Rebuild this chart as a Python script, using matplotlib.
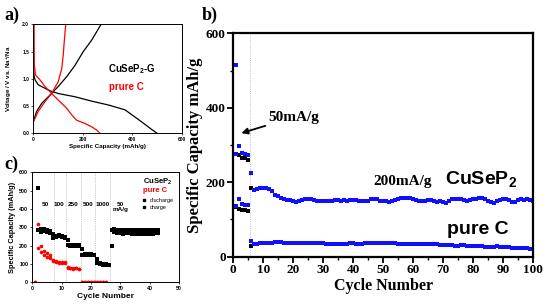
import numpy as np
import matplotlib
matplotlib.use("Agg")
import matplotlib.pyplot as plt
from matplotlib.lines import Line2D

plt.rcParams['mathtext.fontset'] = 'custom'
plt.rcParams['mathtext.rm'] = 'Liberation Sans:bold'
plt.rcParams['mathtext.bf'] = 'Liberation Sans:bold'
plt.rcParams['mathtext.it'] = 'Liberation Sans:bold'

# ---- panel a: voltage profiles (capacity mAh/g, voltage V) ----
cusep2_dis_cap = [0, 3, 7, 20, 67, 101, 169, 236, 303, 371, 438, 470, 500]
cusep2_dis_v = [1.27, 1.05, 0.98, 0.89, 0.78, 0.73, 0.67, 0.59, 0.52, 0.43, 0.21, 0.10, 0.0]
cusep2_chg_cap = [0, 13, 34, 67, 101, 135, 169, 202, 236, 274]
cusep2_chg_v = [0.21, 0.40, 0.55, 0.70, 0.86, 1.04, 1.25, 1.50, 1.71, 2.0]
purec_dis_cap = [3, 4, 9, 27, 47, 74, 101, 135, 155, 175, 209, 236, 256, 270]
purec_dis_v = [2.0, 1.25, 1.07, 0.98, 0.86, 0.73, 0.61, 0.46, 0.34, 0.24, 0.18, 0.12, 0.06, 0.0]
purec_chg_cap = [0, 20, 47, 74, 101, 115, 121, 125, 131]
purec_chg_v = [0.21, 0.40, 0.58, 0.73, 0.95, 1.19, 1.44, 1.68, 2.0]

# ---- panel b: long cycling ----
cusep2_first = 515
cusep2_50_dis = [277, 297, 279, 275, 272]
cusep2_chg = [277, 272, 265, 265, 259, 185]
purec_50_dis = [135, 155, 142, 140, 138]
purec_chg = [133, 129, 125, 125, 123, 28]
cusep2_200 = [224, 180, 182, 184, 185, 184, 182, 176, 167, 162, 158, 155, 153, 153, 149,
              146, 149, 153, 155, 156, 155, 153, 151, 150, 150, 151, 151, 151, 152, 152,
              151, 152, 151, 153, 153, 152, 151, 150, 149, 150, 155, 156, 155, 151, 149,
              150, 148, 151, 153, 156, 157, 158, 157, 157, 156, 153, 150, 149, 151, 152,
              153, 151, 148, 150, 146, 143, 151, 155, 155, 156, 154, 152, 150, 152, 154,
              156, 159, 157, 154, 150, 146, 145, 149, 153, 154, 154, 152, 146, 148, 152,
              154, 153, 154, 153, 150]
purec_200 = [41, 33, 35, 36, 36, 37, 37, 38, 39, 40, 39, 38, 37, 38, 38,
             37, 36, 37, 37, 38, 37, 36, 36, 37, 36, 35, 35, 35, 35, 35,
             35, 35, 35, 36, 36, 35, 35, 35, 36, 36, 36, 36, 37, 37, 37,
             37, 36, 36, 36, 35, 35, 35, 34, 35, 35, 34, 34, 33, 34, 34,
             33, 33, 33, 32, 31, 32, 32, 31, 30, 30, 31, 31, 30, 29, 28,
             28, 29, 28, 27, 27, 27, 27, 28, 27, 26, 25, 25, 24, 24, 23,
             23, 24, 24, 22, 21]

# ---- panel c: rate test ----
c_cusep2_dis = [516, 290, 288, 287, 278, 262, 252, 256, 250, 246, 228, 203, 203, 202,
                202, 180, 152, 152, 152, 151, 125, 103, 100, 98, 97, 283, 288, 285,
                284, 285, 283, 284, 285, 284, 283, 283, 284, 283, 284, 283, 284, 285]
c_cusep2_chg = [285, 276, 280, 275, 268, 240, 247, 250, 246, 240, 205, 200, 200, 200,
                199, 150, 150, 150, 150, 149, 105, 100, 97, 96, 95, 198, 275, 268,
                267, 266, 268, 267, 266, 265, 265, 266, 265, 266, 265, 266, 267, 268]
c_purec_dis = [0, 316, 198, 170, 161, 149, 120, 118, 112, 110, 112, 85, 80, 78, 78, 75,
               2, 2, 2, 2, 2, 2, 2, 2, 2]
c_purec_chg = [0, 189, 163, 150, 138, 131, 115, 110, 106, 105, 103, 80, 76, 75, 76, 72,
               1, 1, 1, 1, 1, 1, 1, 1, 1]
rate_bounds = [7.5, 11.5, 16.5, 21.5, 26.5]
rate_labels = ["50", "100", "250", "500", "1000"]
rate_label_x = [4.3, 9.1, 13.9, 19.0, 23.8]

fig = plt.figure(figsize=(5.48, 3.07), dpi=100)
sans = 'Liberation Sans'
serif = 'Liberation Serif'

# ================= panel a =================
axa = fig.add_axes([0.0608, 0.5658, 0.2708, 0.355])
axa.plot(cusep2_dis_cap, cusep2_dis_v, color='black', lw=0.9)
axa.plot(cusep2_chg_cap, cusep2_chg_v, color='black', lw=0.9)
axa.plot(purec_dis_cap, purec_dis_v, color='red', lw=0.9)
axa.plot(purec_chg_cap, purec_chg_v, color='red', lw=0.9)
axa.set_xlim(0, 600)
axa.set_ylim(0, 2.0)
axa.set_xticks([0, 200, 400, 600])
axa.set_yticks([0.0, 0.5, 1.0, 1.5, 2.0])
axa.set_yticklabels(["0.0", "0.5", "1.0", "1.5", "2.0"])
axa.tick_params(labelsize=3.5, length=1.5, width=0.5, pad=1.5)
for lab in axa.get_xticklabels() + axa.get_yticklabels():
    lab.set_fontfamily(sans)
    lab.set_fontweight('bold')
for s in axa.spines.values():
    s.set_linewidth(0.7)
axa.set_xlabel("Specific Capacity (mAh/g)", fontsize=4.5, fontweight='bold',
               family=sans, labelpad=1)
axa.set_ylabel("Voltage / V vs. Na$^{+}$/Na", fontsize=4.5, fontweight='bold',
               family=sans, labelpad=6)
axa.text(300, 1.17, "CuSeP$_2$-G", fontsize=7, fontweight='bold', family=sans,
         va='center', ha='left', color='black')
axa.text(305, 0.85, "prure C", fontsize=7, fontweight='bold', family=sans,
         va='center', ha='left', color='red')
fig.text(0.008, 0.935, "a)", fontsize=13, fontweight='bold', family=serif)

# ================= panel b =================
axb = fig.add_axes([0.4257, 0.1638, 0.5474, 0.7274])
cyc_50 = np.arange(1, 6)
cyc_chg = np.arange(1, 7)
cyc_200 = np.arange(6, 101)
axb.axvline(5.5, color='#aaaaaa', lw=0.6, ls=':')
ms = 2.5
blue = '#1010ff'
axb.plot(cyc_chg, cusep2_chg, 's', color='black', ms=ms, mew=0)
axb.plot(cyc_chg, purec_chg, 's', color='black', ms=ms, mew=0)
axb.plot([1], [cusep2_first], 's', color=blue, ms=ms, mew=0)
axb.plot(cyc_50, cusep2_50_dis, 's', color=blue, ms=ms, mew=0)
axb.plot(cyc_50, purec_50_dis, 's', color=blue, ms=ms, mew=0)
axb.plot(cyc_200, cusep2_200, 's', color=blue, ms=ms, mew=0)
axb.plot(cyc_200, purec_200, 's', color=blue, ms=ms, mew=0)
axb.set_xlim(0, 100)
axb.set_ylim(0, 600)
axb.set_xticks(np.arange(0, 101, 10))
axb.set_xticks(np.arange(5, 100, 10), minor=True)
axb.set_yticks([0, 200, 400, 600])
axb.set_yticks([100, 300, 500], minor=True)
axb.tick_params(which='major', length=4, width=1.3, labelsize=9.5, pad=1.5)
axb.tick_params(which='minor', length=2.5, width=1.0)
for lab in axb.get_xticklabels() + axb.get_yticklabels():
    lab.set_fontfamily(serif)
    lab.set_fontweight('bold')
for s in axb.spines.values():
    s.set_linewidth(1.6)
axb.set_xlabel("Cycle Number", fontsize=11.5, fontweight='bold', family=serif,
               labelpad=1)
axb.set_ylabel("Specific Capacity mAh/g", fontsize=12, fontweight='bold',
               family=serif, labelpad=2)
axb.annotate("50mA/g", xy=(2.7, 332), xytext=(11.6, 375), fontsize=11,
             fontweight='bold', family=serif, va='center', ha='left',
             arrowprops=dict(arrowstyle='-|>', color='black', lw=1.3,
                             mutation_scale=9, shrinkA=0, shrinkB=0))
axb.text(46.6, 203, "200mA/g", fontsize=11, fontweight='bold', family=serif,
         va='center', ha='left')
axb.text(70.6, 210, "CuSeP$_2$", fontsize=14, fontweight='bold', family=sans,
         va='center', ha='left')
axb.text(71.2, 74, "pure C", fontsize=14, fontweight='bold', family=sans,
         va='center', ha='left')
fig.text(0.368, 0.935, "b)", fontsize=13, fontweight='bold', family=serif)

# ================= panel c =================
axc = fig.add_axes([0.059, 0.0805, 0.2677, 0.3583])
for xb in rate_bounds:
    axc.axvline(xb, color='#999999', lw=0.5, ls=':')
msc = 2.6
cyc_c = np.arange(2, 2 + len(c_cusep2_dis))
cyc_pc = np.arange(1, 1 + len(c_purec_dis))
axc.plot(cyc_c, c_cusep2_dis, 's', color='black', ms=msc, mew=0)
axc.plot(cyc_c, c_cusep2_chg, 's', color='black', ms=msc, mew=0)
axc.plot(cyc_pc, c_purec_dis, 'o', color='red', ms=msc, mew=0)
axc.plot(cyc_pc, c_purec_chg, 'o', color='red', ms=msc, mew=0)
axc.set_xlim(0, 50)
axc.set_ylim(0, 600)
axc.set_xticks(np.arange(0, 51, 10))
axc.set_yticks(np.arange(0, 601, 100))
axc.tick_params(labelsize=3.8, length=1.5, width=0.5, pad=1.5)
for lab in axc.get_xticklabels() + axc.get_yticklabels():
    lab.set_fontfamily(sans)
    lab.set_fontweight('bold')
for s in axc.spines.values():
    s.set_linewidth(0.7)
axc.set_xlabel("Cycle Number", fontsize=6, fontweight='bold', family=sans,
               labelpad=1)
axc.set_ylabel("Specific Capacity (mAh/g)", fontsize=5.3, fontweight='bold',
               family=sans, labelpad=2)
for lx, lt in zip(rate_label_x, rate_labels):
    axc.text(lx, 422, lt, fontsize=4.6, fontweight='bold', family=sans,
             ha='center', va='center')
axc.text(30, 410, "50\nmA/g", fontsize=4.6, fontweight='bold', family=sans,
         ha='center', va='center', linespacing=1.1)
axc.text(37.8, 549, "CuSeP$_2$", fontsize=5.5, fontweight='bold', family=sans,
         ha='left', va='center')
axc.text(37.8, 500, "pure C", fontsize=5.5, fontweight='bold', family=sans,
         ha='left', va='center', color='red')
handles = [Line2D([], [], ls='none', marker='s', color='black', ms=2),
           Line2D([], [], ls='none', marker='s', color='black', ms=2)]
axc.legend(handles, ["discharge", "charge"], loc='upper left',
           bbox_to_anchor=(0.73, 0.79), frameon=False,
           handlelength=0.8, handletextpad=0.6, labelspacing=0.3,
           borderpad=0, prop={'family': sans, 'size': 4})
fig.text(0.008, 0.45, "c)", fontsize=13, fontweight='bold', family=serif)

fig.savefig("out.png", dpi=100)
